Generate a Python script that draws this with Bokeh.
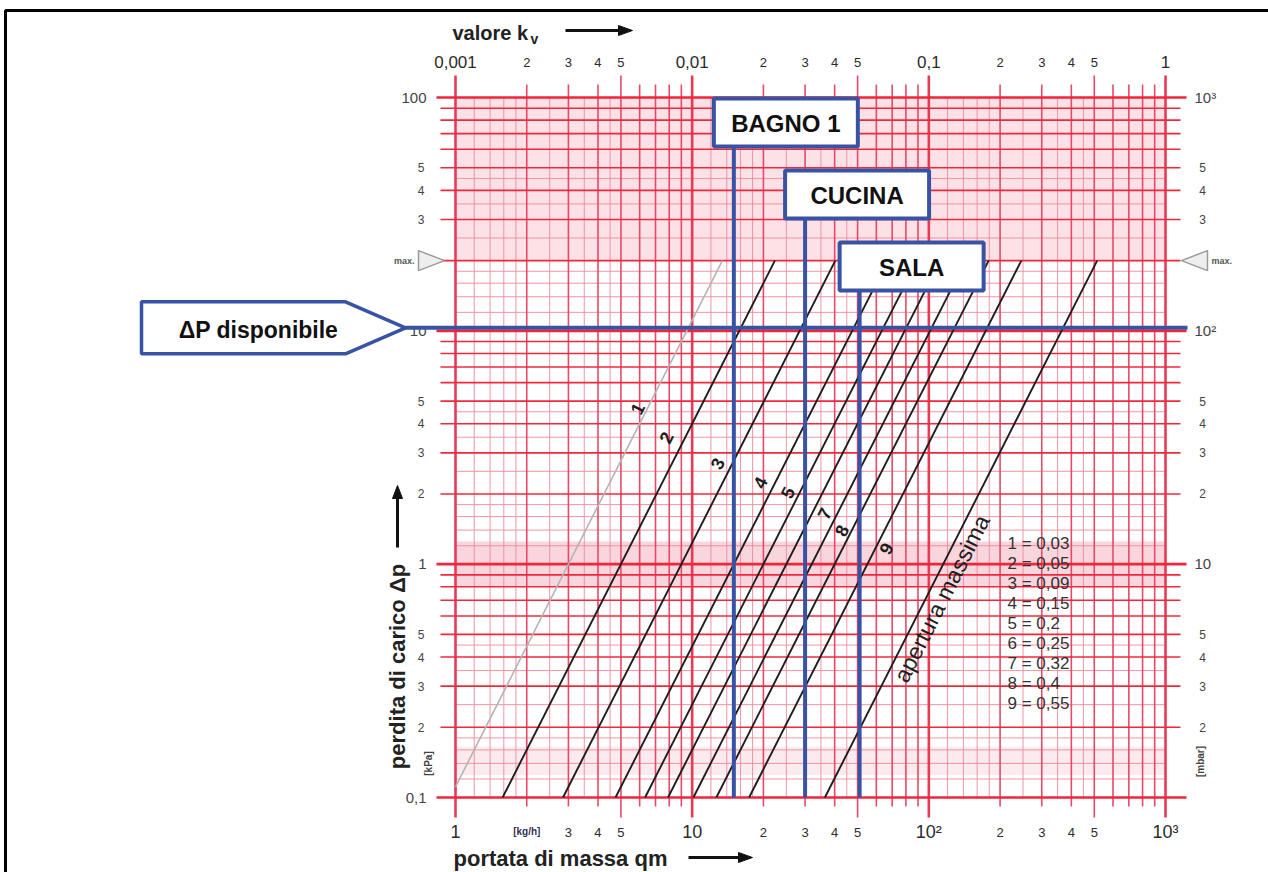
import math
from bokeh.plotting import figure
from bokeh.models import Range1d, LogScale
from bokeh.embed import file_html
from bokeh.resources import INLINE
from bokeh.core.properties import value

# ---------------- data ----------------
kv_ids = ["1", "2", "3", "4", "5", "6", "7", "8", "9"]
kv_values = [0.03, 0.05, 0.09, 0.15, 0.2, 0.25, 0.32, 0.4, 0.55]
kv_max = 1.15                      # "apertura massima"
dp_min = 0.1                       # kPa, lower end of the curves
dp_max = 20.0                      # kPa, "max."
rooms = ["BAGNO 1", "CUCINA", "SALA"]
room_flows = [15, 30, 51]          # kg/h
dp_available = 10.3                # kPa
dp_label = "ΔP disponibile"

x_major_ticks = [1, 10, 100, 1000]
x_major_labels = ["1", "10", "10²", "10³"]
x_minor_ticks = [2, 3, 4, 5, 20, 30, 40, 50, 200, 300, 400, 500]
x_minor_labels = ["[kg/h]", "3", "4", "5", "2", "3", "4", "5", "2", "3", "4", "5"]

kv_major_ticks = [0.001, 0.01, 0.1, 1]
kv_major_labels = ["0,001", "0,01", "0,1", "1"]
kv_minor_ticks = [0.002, 0.003, 0.004, 0.005, 0.02, 0.03, 0.04, 0.05, 0.2, 0.3, 0.4, 0.5]
kv_minor_labels = ["2", "3", "4", "5", "2", "3", "4", "5", "2", "3", "4", "5"]

y_major_ticks = [0.1, 1, 10, 100]
y_left_major_labels = ["0,1", "1", "10", "100"]
y_right_major_labels = ["", "10", "10²", "10³"]
y_minor_ticks = [0.2, 0.3, 0.4, 0.5, 2, 3, 4, 5, 30, 40, 50]
y_minor_labels = ["2", "3", "4", "5", "2", "3", "4", "5", "3", "4", "5"]

grid_mantissas = [1, 1.2, 1.4, 1.6, 1.8, 2, 2.5, 3, 3.5, 4, 4.5, 5, 6, 7, 8, 9]

# ---------------- geometry (style) ----------------
W, H = 1268, 872
X0, DX = 455.0, 236.67   # px of qm = 1, px per decade
Y0, DY = 797.0, 233.33   # px of dp = 0.1, px per decade


def xd(px):
    return 10 ** ((px - X0) / DX)


def yd(py):
    return 10 ** (-1 + (Y0 - py) / DY)


def xpx(x):
    return X0 + DX * math.log10(x)


def ypx(y):
    return Y0 - DY * (math.log10(y) + 1)


p = figure(width=W, height=H, x_range=Range1d(xd(0), xd(W)), y_range=Range1d(yd(H), yd(0)),
           x_axis_type=None, y_axis_type=None, toolbar_location=None,
           output_backend="svg", min_border=0, title=None)
p.x_scale = LogScale()
p.y_scale = LogScale()
p.outline_line_color = None
p.background_fill_color = "white"
p.border_fill_color = "white"

FONT = value("Liberation Sans")
NARROW = value("Liberation Sans Narrow, Arial Narrow, Liberation Sans")
BLUE = "#3953a4"
TXT = "#2b2b2b"

# scan-like pink bands
p.quad(left=[1, 1, 1], right=[1000, 1000, 1000], bottom=[20, 0.8, 0.125], top=[100, 1.25, 0.165],
       fill_color=["#fbdbe1", "#f8ccd4", "#fbe6ea"], fill_alpha=0.8, line_color=None)

# ---------------- paper grid ----------------
xg_minor, xg_int, xg_dec = [], [], []
for k in range(3):
    for m in grid_mantissas:
        v = m * 10 ** k
        if m == 1:
            xg_dec.append(v)
        elif float(m).is_integer():
            xg_int.append(v)
        else:
            xg_minor.append(v)
xg_dec.append(1000)

yg_minor, yg_int, yg_dec = [], [], []
for k in range(-1, 2):
    for m in grid_mantissas:
        v = m * 10 ** k
        if m == 1:
            yg_dec.append(v)
        elif float(m).is_integer():
            yg_int.append(v)
        else:
            yg_minor.append(v)
yg_dec.append(100)


def mant(x):
    return round(x / 10 ** math.floor(math.log10(x) + 1e-9), 3)


# minor
p.segment(x0=xg_minor, y0=[0.1] * len(xg_minor), x1=xg_minor, y1=[100] * len(xg_minor),
          line_color="#ec8aa0", line_width=1, line_alpha=0.9)
p.segment(x0=[1] * len(yg_minor), y0=yg_minor, x1=[1000] * len(yg_minor), y1=yg_minor,
          line_color="#f28a98", line_width=1, line_alpha=0.9)
# integer mantissas (with tick extensions)
for xs, w, col in ((xg_int, 1.6, "#e64a68"), (xg_dec, 2.6, "#e83a55")):
    top_ext = [yd(75) if mant(x) in (1, 5) else yd(84) for x in xs]
    bot_ext = [yd(817) if mant(x) in (1, 5) else yd(806) for x in xs]
    p.segment(x0=xs, y0=bot_ext, x1=xs, y1=top_ext, line_color=col, line_width=w)
p.segment(x0=[xd(440)] * len(yg_int), y0=yg_int, x1=[xd(1180)] * len(yg_int), y1=yg_int,
          line_color="#f0283c", line_width=1.6)
p.segment(x0=[xd(436)] * len(yg_dec), y0=yg_dec, x1=[xd(1186)] * len(yg_dec), y1=yg_dec,
          line_color="#f2243a", line_width=2.6)

# ---------------- kv curves ----------------
def curve(kv):
    q_lo = 1000 * kv * math.sqrt(dp_min / 100)
    d_lo = dp_min
    if q_lo < 1:
        q_lo, d_lo = 1.0, 100 * (1.0 / (1000 * kv)) ** 2
    q_hi = 1000 * kv * math.sqrt(dp_max / 100)
    return [q_lo, q_hi], [d_lo, dp_max]


xs1, ys1 = curve(kv_values[0])
p.line(xs1, ys1, line_color="#b4b4b4", line_width=1.6)
mx, my = [], []
for kv in kv_values[1:] + [kv_max]:
    a, b = curve(kv)
    mx.append(a)
    my.append(b)
p.multi_line(mx, my, line_color="#1e1e1e", line_width=1.9)

# curve number labels (style: pixel height and offset)
lab_ids = ["1", "2", "3", "4", "5", "7", "8", "9"]
lab_py = [408, 437, 463, 482, 492, 513, 530, 548]
lab_off = [-10, -19, -15, -15, -12, -13, -10, 11]
lx, ly = [], []
for i, py in zip(lab_ids, lab_py):
    kv = kv_values[kv_ids.index(i)]
    d = yd(py)
    lx.append(1000 * kv * math.sqrt(d / 100))
    ly.append(d)
ang = math.atan2(2 * DY, DX)
p.text(x=lx, y=ly, text=lab_ids, x_offset=lab_off, angle=ang, text_font=FONT, text_font_size="18px",
       text_color="#1e1e1e", text_align="center", text_baseline="middle", text_font_style="bold")

d_ap = yd(598)
p.text(x=[1000 * kv_max * math.sqrt(d_ap / 100)], y=[d_ap], text=["apertura massima"], x_offset=[16],
       angle=ang, text_font=FONT, text_font_size="23px", text_color="#1e1e1e",
       text_align="center", text_baseline="middle")

# legend of kv values
leg = [f"{i} = {str(v).replace('.', ',')}" for i, v in zip(kv_ids, kv_values)]
p.text(x=[xd(1007)] * len(leg), y=[yd(543 + 20 * j) for j in range(len(leg))], text=leg,
       text_font=FONT, text_font_size="17px", text_color="#333333", text_baseline="middle")

# ---------------- tick labels ----------------
p.text(x=[1000 * v for v in kv_major_ticks], y=[yd(61)] * 4, text=kv_major_labels,
       text_font=FONT, text_font_size="17px", text_color=TXT, text_align="center", text_baseline="middle")
p.text(x=[1000 * v for v in kv_minor_ticks], y=[yd(62)] * len(kv_minor_ticks), text=kv_minor_labels,
       text_font=FONT, text_font_size="13px", text_color=TXT, text_align="center", text_baseline="middle")
p.text(x=x_major_ticks, y=[yd(831)] * 4, text=x_major_labels, text_font=FONT, text_font_size="18px",
       text_color=TXT, text_align="center", text_baseline="middle")
p.text(x=x_minor_ticks[1:], y=[yd(832)] * (len(x_minor_ticks) - 1), text=x_minor_labels[1:], text_font=FONT,
       text_font_size="13px", text_color=TXT, text_align="center", text_baseline="middle")
p.text(x=x_minor_ticks[:1], y=[yd(831)], text=x_minor_labels[:1], text_font=FONT, text_font_size="10px",
       text_font_style="bold", text_color="#333355", text_align="center", text_baseline="middle")

p.text(x=[xd(426)] * 4, y=y_major_ticks, text=y_left_major_labels, text_font=FONT, text_font_size="15px",
       text_color="#444444", text_align="right", text_baseline="middle")
p.text(x=[xd(424)] * len(y_minor_ticks), y=y_minor_ticks, text=y_minor_labels, text_font=FONT,
       text_font_size="12px", text_color="#444444", text_align="right", text_baseline="middle")
p.text(x=[xd(1194)] * 4, y=y_major_ticks, text=y_right_major_labels, text_font=FONT, text_font_size="15px",
       text_color="#444444", text_align="left", text_baseline="middle")
p.text(x=[xd(1202)] * len(y_minor_ticks), y=y_minor_ticks, text=y_minor_labels, text_font=FONT,
       text_font_size="12px", text_color="#444444", text_align="center", text_baseline="middle")
p.text(x=[xd(428), xd(1200)], y=[yd(763), yd(761)], text=["[kPa]", "[mbar]"], angle=math.pi / 2,
       text_font=FONT, text_font_size="10px", text_font_style="bold", text_color="#444444",
       text_align="center", text_baseline="middle")

# max. markers
ymx = dp_max
pyx = ypx(ymx)
p.patch([xd(418), xd(418), xd(444)], [yd(pyx - 10), yd(pyx + 10), ymx], fill_color="#eeeeee",
        line_color="#9a9a9a", line_width=1.5)
p.patch([xd(1207), xd(1207), xd(1181)], [yd(pyx - 10), yd(pyx + 10), ymx], fill_color="#eeeeee",
        line_color="#9a9a9a", line_width=1.5)
p.text(x=[xd(414), xd(1211)], y=[ymx, ymx], text=["max.", "max."], text_align=["right", "left"],
       text_font=FONT, text_font_size="9px", text_font_style="bold", text_color="#555555", text_baseline="middle")

# ---------------- axis titles ----------------
p.text(x=[xd(452)], y=[yd(32)], text=["valore k"], text_font=FONT, text_font_size="20px",
       text_font_style="bold", text_color="#222222", text_baseline="middle")
p.text(x=[xd(530)], y=[yd(38)], text=["v"], text_font=FONT, text_font_size="14px",
       text_font_style="bold", text_color="#222222", text_baseline="middle")
p.text(x=[xd(453)], y=[yd(858)], text=["portata di massa qm"], text_font=FONT, text_font_size="22px",
       text_font_style="bold", text_color="#222222", text_baseline="middle")
p.text(x=[xd(397)], y=[yd(666)], text=["perdita di carico Δp"], angle=math.pi / 2, text_font=FONT,
       text_font_size="22px", text_font_style="bold", text_color="#222222", text_align="center",
       text_baseline="middle")

# arrows
p.segment(x0=[xd(565), xd(688)], y0=[yd(30), yd(857)], x1=[xd(622), xd(742)], y1=[yd(30), yd(857)],
          line_color="#111111", line_width=3)
p.patches([[xd(618), xd(618), xd(632)], [xd(738), xd(738), xd(752)]],
          [[yd(25), yd(35), yd(30)], [yd(852), yd(862), yd(857)]], fill_color="#111111", line_color="#111111")
p.segment(x0=[xd(397)], y0=[yd(547)], x1=[xd(397)], y1=[yd(495)], line_color="#111111", line_width=3)
p.patch([xd(392), xd(402), xd(397)], [yd(498), yd(498), yd(485)], fill_color="#111111", line_color="#111111")

# ---------------- blue overlay ----------------
box_top_px = [98, 170, 242]
box_h = 48
for name, q, tp in zip(rooms, room_flows, box_top_px):
    qx = xpx(q)
    p.segment(x0=[q], y0=[0.1], x1=[q], y1=[yd(tp + box_h)], line_color=BLUE, line_width=4)
    p.quad(left=[xd(qx - 20)], right=[xd(qx + 124)], top=[yd(tp)], bottom=[yd(tp + box_h)],
           fill_color="white", line_color=BLUE, line_width=4)
    p.text(x=[xd(qx + 52)], y=[yd(tp + box_h / 2 + 1)], text=[name], text_font=NARROW,
           text_font_size="24px", text_font_style="bold", text_color="#111111",
           text_align="center", text_baseline="middle")

tip = ypx(dp_available)
p.segment(x0=[xd(405)], y0=[dp_available], x1=[xd(1187)], y1=[dp_available], line_color=BLUE, line_width=4)
p.patch([xd(141), xd(345), xd(405), xd(345), xd(141)],
        [yd(tip - 26), yd(tip - 26), dp_available, yd(tip + 26), yd(tip + 26)],
        fill_color="white", line_color=BLUE, line_width=3.5)
p.text(x=[xd(258)], y=[yd(tip + 2)], text=[dp_label], text_font=NARROW, text_font_size="23px",
       text_font_style="bold", text_color="#111111", text_align="center", text_baseline="middle")

# outer frame of the picture
p.line([xd(5), xd(5), xd(1268)], [yd(872), yd(10), yd(10)], line_color="#000000", line_width=3)

open("out.html", "w").write(file_html(p, INLINE))
